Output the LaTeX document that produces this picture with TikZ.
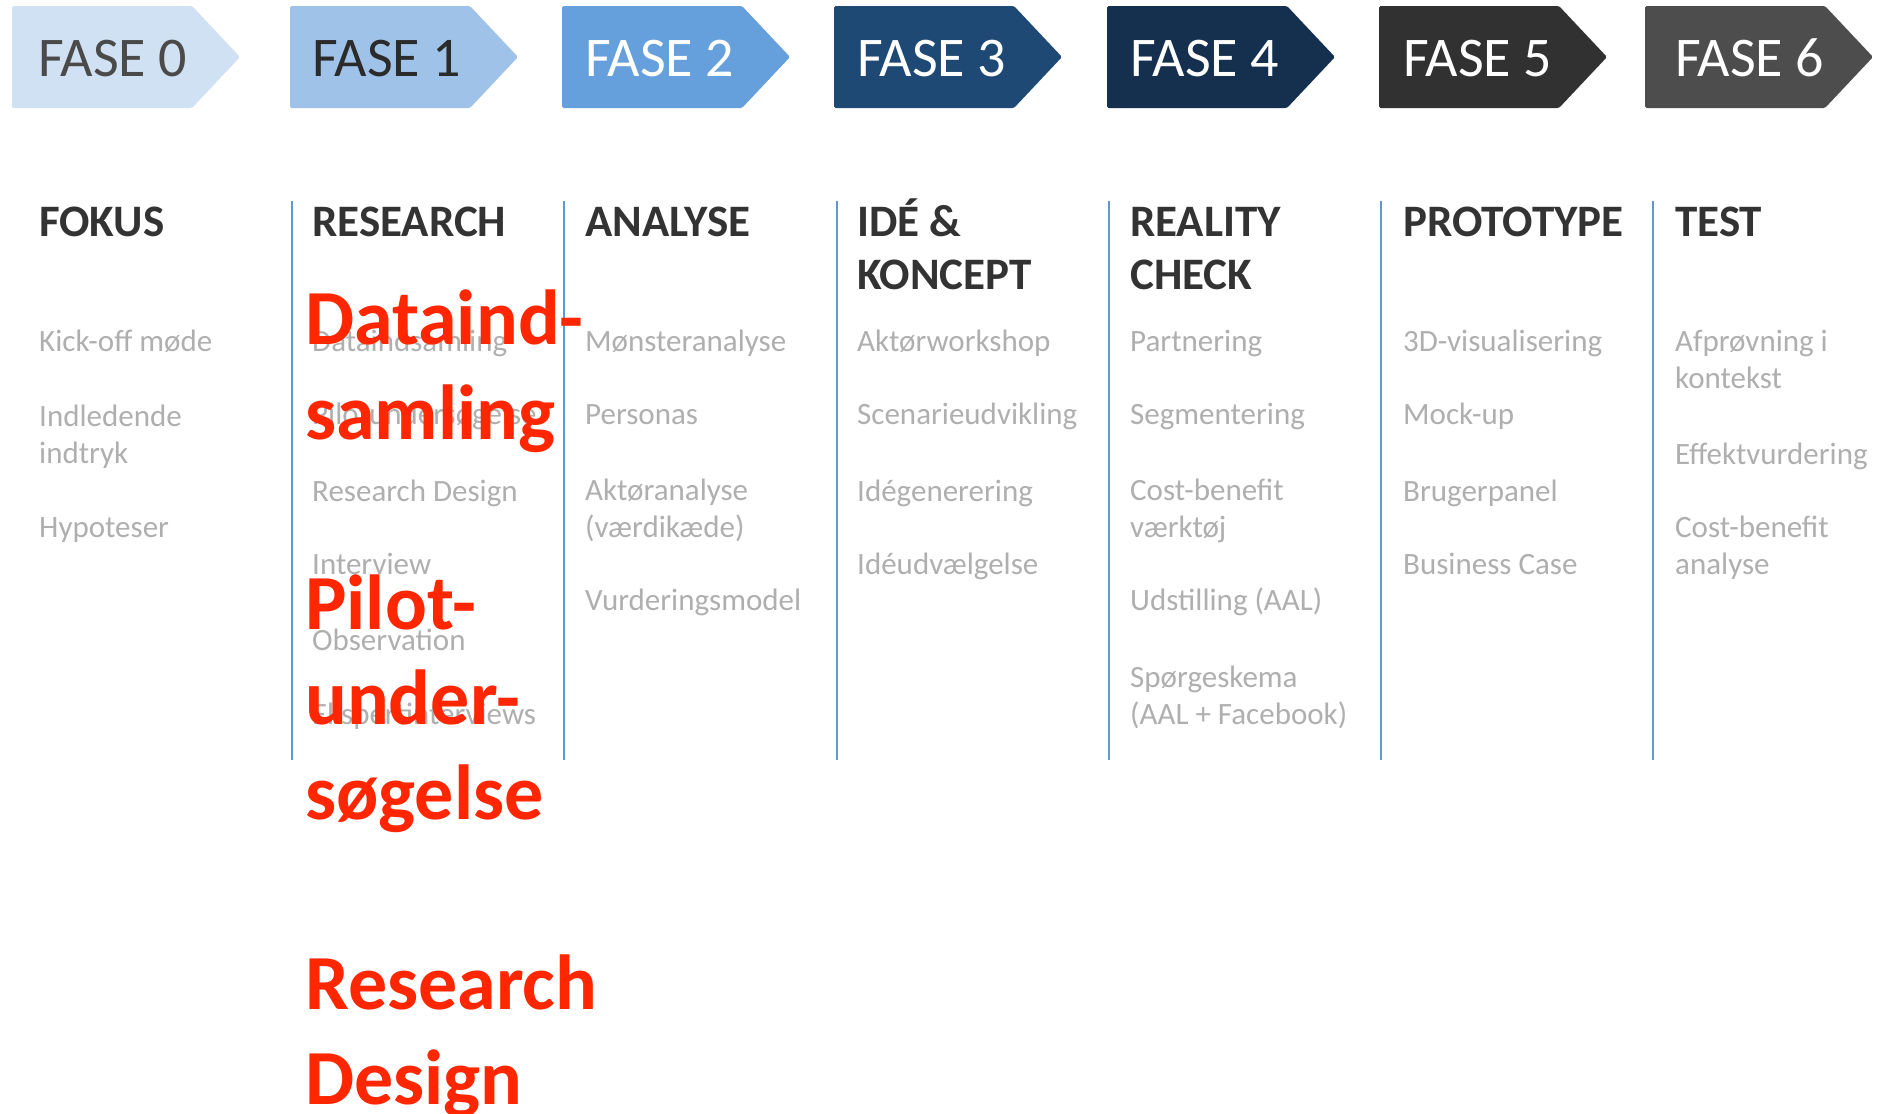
\documentclass[tikz,border=0pt]{standalone}
\usepackage{fontspec}
\setmainfont{Carlito}
\definecolor{f0}{RGB}{208,225,243}
\definecolor{f1}{RGB}{159,195,232}
\definecolor{f2}{RGB}{101,160,220}
\definecolor{f3}{RGB}{31,73,117}
\definecolor{f4}{RGB}{21,48,79}
\definecolor{f5}{RGB}{49,49,49}
\definecolor{f6}{RGB}{77,77,77}
\definecolor{t0}{RGB}{74,74,74}
\definecolor{t1}{RGB}{43,43,43}
\definecolor{headc}{RGB}{51,51,51}
\definecolor{itemc}{RGB}{175,175,175}
\definecolor{sepc}{RGB}{91,155,213}
\definecolor{redc}{RGB}{255,38,0}
\begin{document}
\begin{tikzpicture}[x=1pt,y=-1pt,
  phasebox/.style={rounded corners=1.5pt},
  phasetext/.style={anchor=base west, inner sep=0pt, font=\fontsize{56}{60}\selectfont},
  heading/.style={anchor=base west, inner sep=0pt, align=left, text=headc, font=\bfseries\fontsize{45}{53}\selectfont},
  item/.style={anchor=base west, inner sep=0pt, align=left, text=itemc, font=\fontsize{31}{37}\selectfont},
  sepline/.style={draw=sepc, line width=2pt},
  redtext/.style={anchor=base west, inner sep=0pt, align=left, text=redc, font=\bfseries\fontsize{78}{95}\selectfont}]
\useasboundingbox (0,0) rectangle (1880,1114);
\fill[white] (0,0) rectangle (1880,1114);

% phase arrows
\foreach \n/\xx/\tx/\fc/\tc in {0/12/38/f0/t0, 1/290/312/f1/t1, 2/562/585/f2/white, 3/834/857/f3/white, 4/1107/1130/f4/white, 5/1379/1403/f5/white, 6/1645/1675/f6/white} {
  \fill[fill=\fc, phasebox] (\xx,6) -- ++(180,0) -- ++(48,51) -- ++(-48,51) -- ++(-180,0) -- cycle;
  \node[phasetext, text=\tc] (fase\n) at (\tx,76) {FASE \n};
}

% separators
\foreach \sx in {291.7,564,836.5,1108.6,1381,1653} {
  \draw[sepline] (\sx,201) -- (\sx,760);
}

% headings (multi-line nodes are placed by the baseline of their last line)
\node[heading] (h0) at (39,236) {FOKUS};
\node[heading] (h1) at (312,236) {RESEARCH};
\node[heading] (h2) at (585,236) {ANALYSE};
\node[heading] (h3) at (857,289) {IDÉ \&\\KONCEPT};
\node[heading] (h4) at (1130,289) {REALITY\\CHECK};
\node[heading] (h5) at (1403,236) {PROTOTYPE};
\node[heading] (h6) at (1675,236) {TEST};

% column 0
\node[item] (a1) at (39,351) {Kick-off møde};
\node[item] (a2) at (39,463) {Indledende\\indtryk};
\node[item] (a3) at (39,537) {Hypoteser};
% column 1
\node[item] (b1) at (312,351) {Dataindsamling};
\node[item] (b2) at (312,424) {Pilotundersøgelse};
\node[item] (b3) at (312,501) {Research Design};
\node[item] (b4) at (312,574) {Interview};
\node[item] (b5) at (312,650) {Observation};
\node[item] (b6) at (312,724) {Ekspertinterviews};
% column 2
\node[item] (c1) at (585,351) {Mønsteranalyse};
\node[item] (c2) at (585,424) {Personas};
\node[item] (c3) at (585,537) {Aktøranalyse\\(værdikæde)};
\node[item] (c4) at (585,610) {Vurderingsmodel};
% column 3
\node[item] (d1) at (857,351) {Aktørworkshop};
\node[item] (d2) at (857,424) {Scenarieudvikling};
\node[item] (d3) at (857,501) {Idégenerering};
\node[item] (d4) at (857,574) {Idéudvælgelse};
% column 4
\node[item] (e1) at (1130,351) {Partnering};
\node[item] (e2) at (1130,424) {Segmentering};
\node[item] (e3) at (1130,537) {Cost-benefit\\værktøj};
\node[item] (e4) at (1130,610) {Udstilling (AAL)};
\node[item] (e5) at (1130,724) {Spørgeskema\\(AAL + Facebook)};
% column 5
\node[item] (g1) at (1403,351) {3D-visualisering};
\node[item] (g2) at (1403,424) {Mock-up};
\node[item] (g3) at (1403,501) {Brugerpanel};
\node[item] (g4) at (1403,574) {Business Case};
% column 6
\node[item] (k1) at (1675,388) {Afprøvning i\\kontekst};
\node[item] (k2) at (1675,464) {Effektvurdering};
\node[item] (k3) at (1675,574) {Cost-benefit\\analyse};

% red overlay
\node[redtext] (red) at (305,1104) {Dataind-\\samling\\[95pt]Pilot-\\under-\\søgelse\\[95pt]Research\\Design};
\end{tikzpicture}
\end{document}
